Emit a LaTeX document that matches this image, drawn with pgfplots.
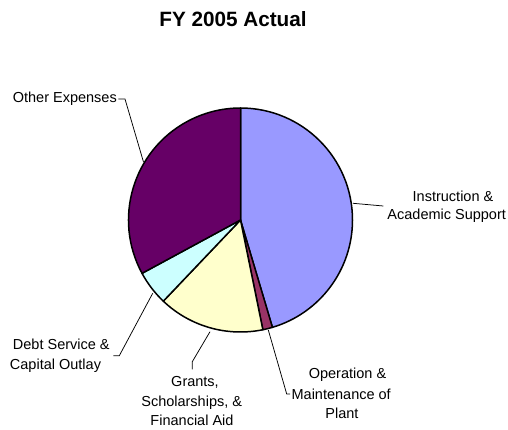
\documentclass[border=0pt]{standalone}
\usepackage{pgfplots}
\pgfplotsset{compat=1.18}
\usepackage{pgfplotstable}
\usepackage{fontspec}
\setmainfont{Liberation Sans}

\definecolor{instr}{HTML}{9999FF}
\definecolor{opm}{HTML}{993366}
\definecolor{grant}{HTML}{FFFFCC}
\definecolor{debt}{HTML}{CCFFFF}
\definecolor{other}{HTML}{660066}

% share of FY 2005 spending, clockwise from 12 o'clock
\pgfplotstableread{
share color
45.4  instr
1.4   opm
15.3  grant
5.0   debt
32.9  other
}\expenses

\newcommand\lbl{\fontsize{14.5}{19.5}\selectfont}

\begin{document}
\begin{tikzpicture}
\begin{axis}[
  x=1pt, y=1pt,
  xmin=0, xmax=508, ymin=0, ymax=430,
  y dir=reverse,
  hide axis, clip=false]
\path (axis cs:0,0) (axis cs:508,430);

% wedges
\pgfplotstablegetrowsof{\expenses}
\pgfmathtruncatemacro\lastrow{\pgfplotsretval-1}
\gdef\cum{0}
\foreach \i in {0,...,\lastrow} {
  \pgfplotstablegetelem{\i}{share}\of\expenses \let\v\pgfplotsretval
  \pgfplotstablegetelem{\i}{color}\of\expenses \let\c\pgfplotsretval
  \pgfmathsetmacro\a{90-3.6*\cum}
  \pgfmathsetmacro\b{90-3.6*(\cum+\v)}
  \edef\temp{\noexpand\filldraw[fill=\c, draw=black, line width=1.5pt, line join=round]
    (axis cs:240.5,220) -- ++(\a:112pt) arc[start angle=\a, end angle=\b, radius=112pt] -- cycle;}
  \temp
  \pgfmathsetmacro\newcum{\cum+\v}
  \xdef\cum{\newcum}
}

% leader lines
\draw[line width=0.75pt] (axis cs:118.3,99) -- (axis cs:125,99) -- (axis cs:143.5,162);
\draw[line width=0.75pt] (axis cs:353,203.3) -- (axis cs:383.3,206);
\draw[line width=0.75pt] (axis cs:113.3,355.7) -- (axis cs:119.3,355.7) -- (axis cs:152.7,293.3);
\draw[line width=0.75pt] (axis cs:210,331.7) -- (axis cs:192.3,361.7) -- (axis cs:192.3,369.3);
\draw[line width=0.75pt] (axis cs:268.3,330) -- (axis cs:286.7,394) -- (axis cs:290,394);

% title and labels
\node[anchor=base, font=\fontsize{20.7}{24}\selectfont\bfseries] at (axis cs:233,26.7) {FY 2005 Actual};
\node[anchor=base east, inner sep=0pt, font=\lbl] at (axis cs:117,102.3) {Other Expenses};
\node[anchor=base, inner sep=0pt, font=\lbl] at (axis cs:453,201.7) {Instruction \&};
\node[anchor=base, inner sep=0pt, font=\lbl] at (axis cs:446.7,220) {Academic Support};
\node[anchor=base, inner sep=0pt, font=\lbl] at (axis cs:61.3,349) {Debt Service \&};
\node[anchor=base, inner sep=0pt, font=\lbl] at (axis cs:55.5,369) {Capital Outlay};
\node[anchor=base, inner sep=0pt, font=\lbl] at (axis cs:195,386.7) {Grants,};
\node[anchor=base, inner sep=0pt, font=\lbl] at (axis cs:191.7,406) {Scholarships, \&};
\node[anchor=base, inner sep=0pt, font=\lbl] at (axis cs:192,425) {Financial Aid};
\node[anchor=base, inner sep=0pt, font=\lbl] at (axis cs:347.5,378.3) {Operation \&};
\node[anchor=base, inner sep=0pt, font=\lbl] at (axis cs:341.2,399) {Maintenance of};
\node[anchor=base, inner sep=0pt, font=\lbl] at (axis cs:342,418) {Plant};
\end{axis}
\end{tikzpicture}
\end{document}
